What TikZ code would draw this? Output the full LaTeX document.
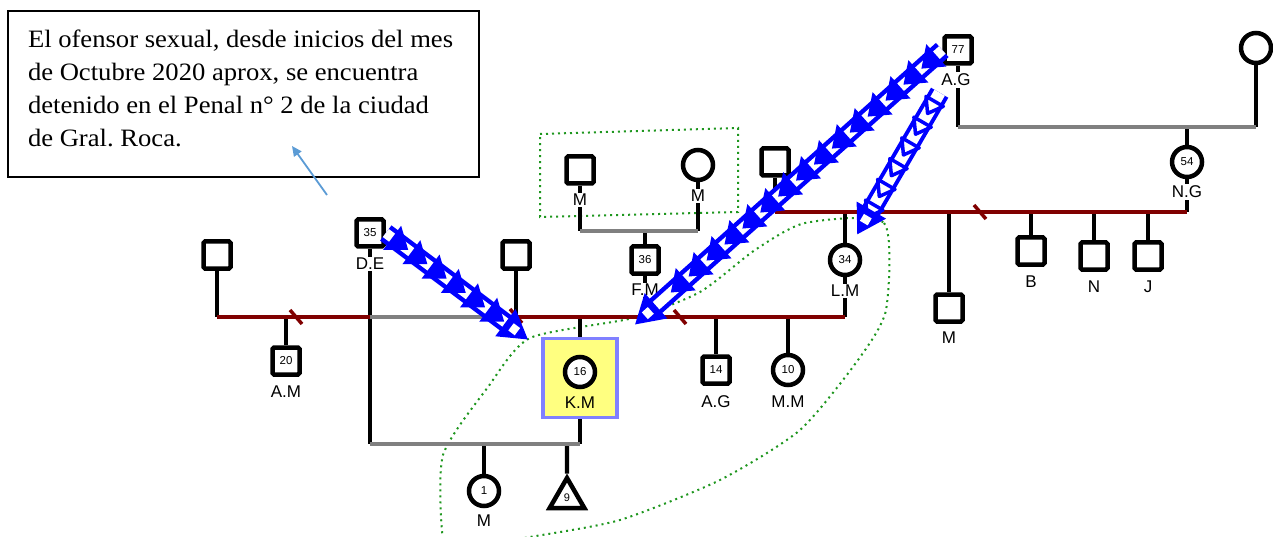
\documentclass[tikz,border=0pt]{standalone}
\usepackage{fontspec}
\setmainfont{Liberation Serif}[FakeStretch=1.065]
\newfontfamily\lblfont{Liberation Sans}
\usetikzlibrary{positioning,arrows.meta,shapes.geometric,decorations.markings}

\definecolor{relred}{RGB}{128,0,0}
\definecolor{relgray}{RGB}{128,128,128}
\definecolor{kmfill}{RGB}{255,255,128}
\definecolor{kmdraw}{RGB}{128,128,255}
\definecolor{notearrow}{RGB}{91,155,213}
\definecolor{zone}{RGB}{30,150,30}

\begin{document}
\begin{tikzpicture}[x=1pt, y=-1pt, on grid,
	sq/.style={draw, line width=4.5pt, minimum size=27pt, inner sep=0pt, rounded corners=1.5pt, fill=white, font=\lblfont\fontsize{11.5}{12}\selectfont},
	ci/.style={circle, draw, line width=4.5pt, minimum size=30pt, inner sep=0pt, fill=white, font=\lblfont\fontsize{11.5}{12}\selectfont},
	tri/.style={regular polygon, regular polygon sides=3, draw, line width=4.5pt, minimum size=40pt, inner sep=0pt, fill=white, font=\lblfont\fontsize{11}{11}\selectfont},
	lbl/.style={fill=white, inner sep=1.5pt, font=\lblfont\fontsize{17}{17}\selectfont},
	ln/.style={line width=4.3pt},
	rel/.style={line width=4.3pt, relred},
	gry/.style={line width=4.3pt, relgray},
	zonebd/.style={zone, line width=2pt, dash pattern=on 2pt off 4pt},
	abuse/.style={draw=blue, line width=4.5pt, double=white, double distance=10pt, shorten >=22pt,
		postaction={decorate, decoration={markings,
			mark=between positions 18pt and -36pt step 24pt with {\fill[blue, line join=round] (10pt,0pt) -- (-10pt,15pt) -- (-10pt,-15pt) -- cycle;},
			mark=at position -0.5pt with {\fill[blue] (0pt,0pt) -- (-28pt,17pt) -- (-28pt,-17pt) -- cycle; \fill[white] (-21pt,4.5pt) rectangle (-13pt,-4.5pt);}}}},
	ladder/.style={draw=blue, line width=4pt, double=white, double distance=12pt, shorten >=22pt,
		postaction={decorate, decoration={markings,
			mark=between positions 10pt and -32pt step 24pt with {\draw[blue, line width=3.5pt, line join=round] (0pt,-10pt) -- (0pt,10pt) -- (14pt,0pt) -- cycle;},
			mark=at position -0.5pt with {\fill[blue] (0pt,0pt) -- (-28pt,17pt) -- (-28pt,-17pt) -- cycle; \fill[white] (-21pt,4.5pt) rectangle (-13pt,-4.5pt);}}}},
	notebox/.style={draw, line width=1.3pt, inner xsep=20pt, inner ysep=19pt, outer sep=0pt}]
	\useasboundingbox (0,0) rectangle (1273,537);

	\draw[zonebd] (540,134) -- (738,128) -- (738,212) -- (540,217) -- cycle;
	\draw[zonebd] plot[smooth cycle, tension=0.4] coordinates {(805,223) (884,223) (886,310) (858,360) (800,430) (720,480) (620,520) (530,537) (460,548) (443,540) (443,455) (488,387) (530,338) (633,318) (700,292) (755,250)};

	\node[notebox, anchor=north west] (note) at (8,11) {\parbox[t][128pt][t]{431pt}{\raggedright\fontsize{25}{33}\selectfont El ofensor sexual, desde inicios del mes\\de Octubre 2020 aprox, se encuentra\\detenido en el Penal n° 2 de la ciudad\\de Gral.\ Roca.}};
	\coordinate (nt) at (327,195);
	\coordinate (nh) at (292,146);
	\draw[notearrow, line width=1.8pt, -{Triangle[length=10pt,width=9pt]}] (nt) -- (nh);

	\node[sq] (de) at (370,233) {35};
	\node[sq, below left=22pt and 153pt of de] (s1) {};
	\node[sq, below right=22pt and 146pt of de] (s2) {};
	\node[sq, below right=106pt and 69pt of s1] (am) {20};
	\node[draw=kmdraw, fill=kmfill, line width=3.5pt, minimum width=74pt, minimum height=79pt, below right=123pt and 64pt of s2] (kmb) {};
	\node[ci, above=6pt of kmb] (km) {16};
	\node[sq, above right=118pt and 65pt of kmb] (fm) {36};
	\node[sq, above left=90pt and 65pt of fm] (mf) {};
	\node[ci, above right=5pt and 118pt of mf] (mo) {};
	\node[sq, above right=3pt and 77pt of mo] (s3) {};
	\node[ci, below right=98pt and 70pt of s3] (lm) {34};
	\node[sq, below right=110pt and 71pt of fm] (ag1) {14};
	\node[ci, right=72pt of ag1] (mm) {10};
	\node[sq, above right=112pt and 183pt of s3] (ag0) {77};
	\node[ci, above right=2pt and 298pt of ag0] (go) {};
	\node[ci, below right=112pt and 229pt of ag0] (ng) {54};
	\node[sq, below right=48pt and 104pt of lm] (m2) {};
	\node[sq, above right=57pt and 82pt of m2] (b) {};
	\node[sq, below right=5pt and 63pt of b] (n) {};
	\node[sq, right=54pt of n] (j) {};
	\node[ci, below left=113pt and 96pt of kmb] (kc) {1};
	\node[tri, below right=7pt and 83pt of kc] (kt) {9};

	\coordinate (yt) at (0,127);
	\coordinate (yb) at (0,212);
	\coordinate (yd) at (0,231);
	\coordinate (ya) at (0,317);
	\coordinate (yc) at (0,444);

	\draw[ln] (s1) -- (s1 |- ya);
	\draw[ln] (de) -- (de |- yc);
	\draw[ln] (s2) -- (s2 |- ya);
	\draw[ln] (kmb) -- (kmb |- ya);
	\draw[ln] (kmb) -- (kmb |- yc);
	\draw[ln] (fm) -- (fm |- ya);
	\draw[ln] (fm) -- (fm |- yd);
	\draw[ln] (mf) -- (mf |- yd);
	\draw[ln] (mo) -- (mo |- yd);
	\draw[ln] (lm) -- (lm |- ya);
	\draw[ln] (lm) -- (lm |- yb);
	\draw[ln] (s3) -- (s3 |- yb);
	\draw[ln] (ng) -- (ng |- yb);
	\draw[ln] (ng) -- (ng |- yt);
	\draw[ln] (ag0) -- (ag0 |- yt);
	\draw[ln] (go) -- (go |- yt);
	\draw[ln] (am |- ya) -- (am);
	\draw[ln] (ag1 |- ya) -- (ag1);
	\draw[ln] (mm |- ya) -- (mm);
	\draw[ln] (m2 |- yb) -- (m2);
	\draw[ln] (b |- yb) -- (b);
	\draw[ln] (n |- yb) -- (n);
	\draw[ln] (j |- yb) -- (j);
	\draw[ln] (kc |- yc) -- (kc);
	\draw[ln] (kt |- yc) -- (kt);

	\draw[rel] (s1 |- ya) -- (de |- ya);
	\draw[gry] (de |- ya) -- (s2 |- ya);
	\draw[rel] (s2 |- ya) -- (lm |- ya);
	\draw[rel] (s3 |- yb) -- (ng |- yb);
	\draw[gry] (ag0 |- yt) -- (go |- yt);
	\draw[gry] (mf |- yd) -- (mo |- yd);
	\draw[gry] (de |- yc) -- (kmb |- yc);
	\foreach \sx/\sy in {296/317, 516/316, 680/317, 980/212}
		\draw[rel, line width=3.5pt] (\sx,\sy) ++(-6,-7) -- ++(12,14);

	\node[lbl, below=31pt of de] (del) {D.E};
	\node[lbl, below=31pt of am] (aml) {A.M};
	\node[lbl, fill=none, below=31pt of km] (kml) {K.M};
	\node[lbl, below=30pt of fm] (fml) {F.M};
	\node[lbl, below=30pt of mf] (mfl) {M};
	\node[lbl, below=31pt of mo] (mol) {M};
	\node[lbl, below=31pt of lm] (lml) {L.M};
	\node[lbl, below=32pt of ag1] (ag1l) {A.G};
	\node[lbl, below=32pt of mm] (mml) {M.M};
	\node[lbl, below left=30pt and 2pt of ag0] (ag0l) {A.G};
	\node[lbl, below=30pt of ng] (ngl) {N.G};
	\node[lbl, below=30pt of m2] (m2l) {M};
	\node[lbl, below=31pt of b] (bl) {B};
	\node[lbl, below=31pt of n] (nl) {N};
	\node[lbl, below=31pt of j] (jl) {J};
	\node[lbl, below=30pt of kc] (kcl) {M};

	\draw[abuse] (de.east) -- ([xshift=-13pt,yshift=-3pt]kmb.north west);
	\draw[abuse] (ag0.west) -- ([xshift=16pt,yshift=12pt]kmb.north east);
	\draw[ladder] ([yshift=-5pt]ag0l.south west) -- ([xshift=12pt,yshift=8pt]lm.north);
\end{tikzpicture}
\end{document}
